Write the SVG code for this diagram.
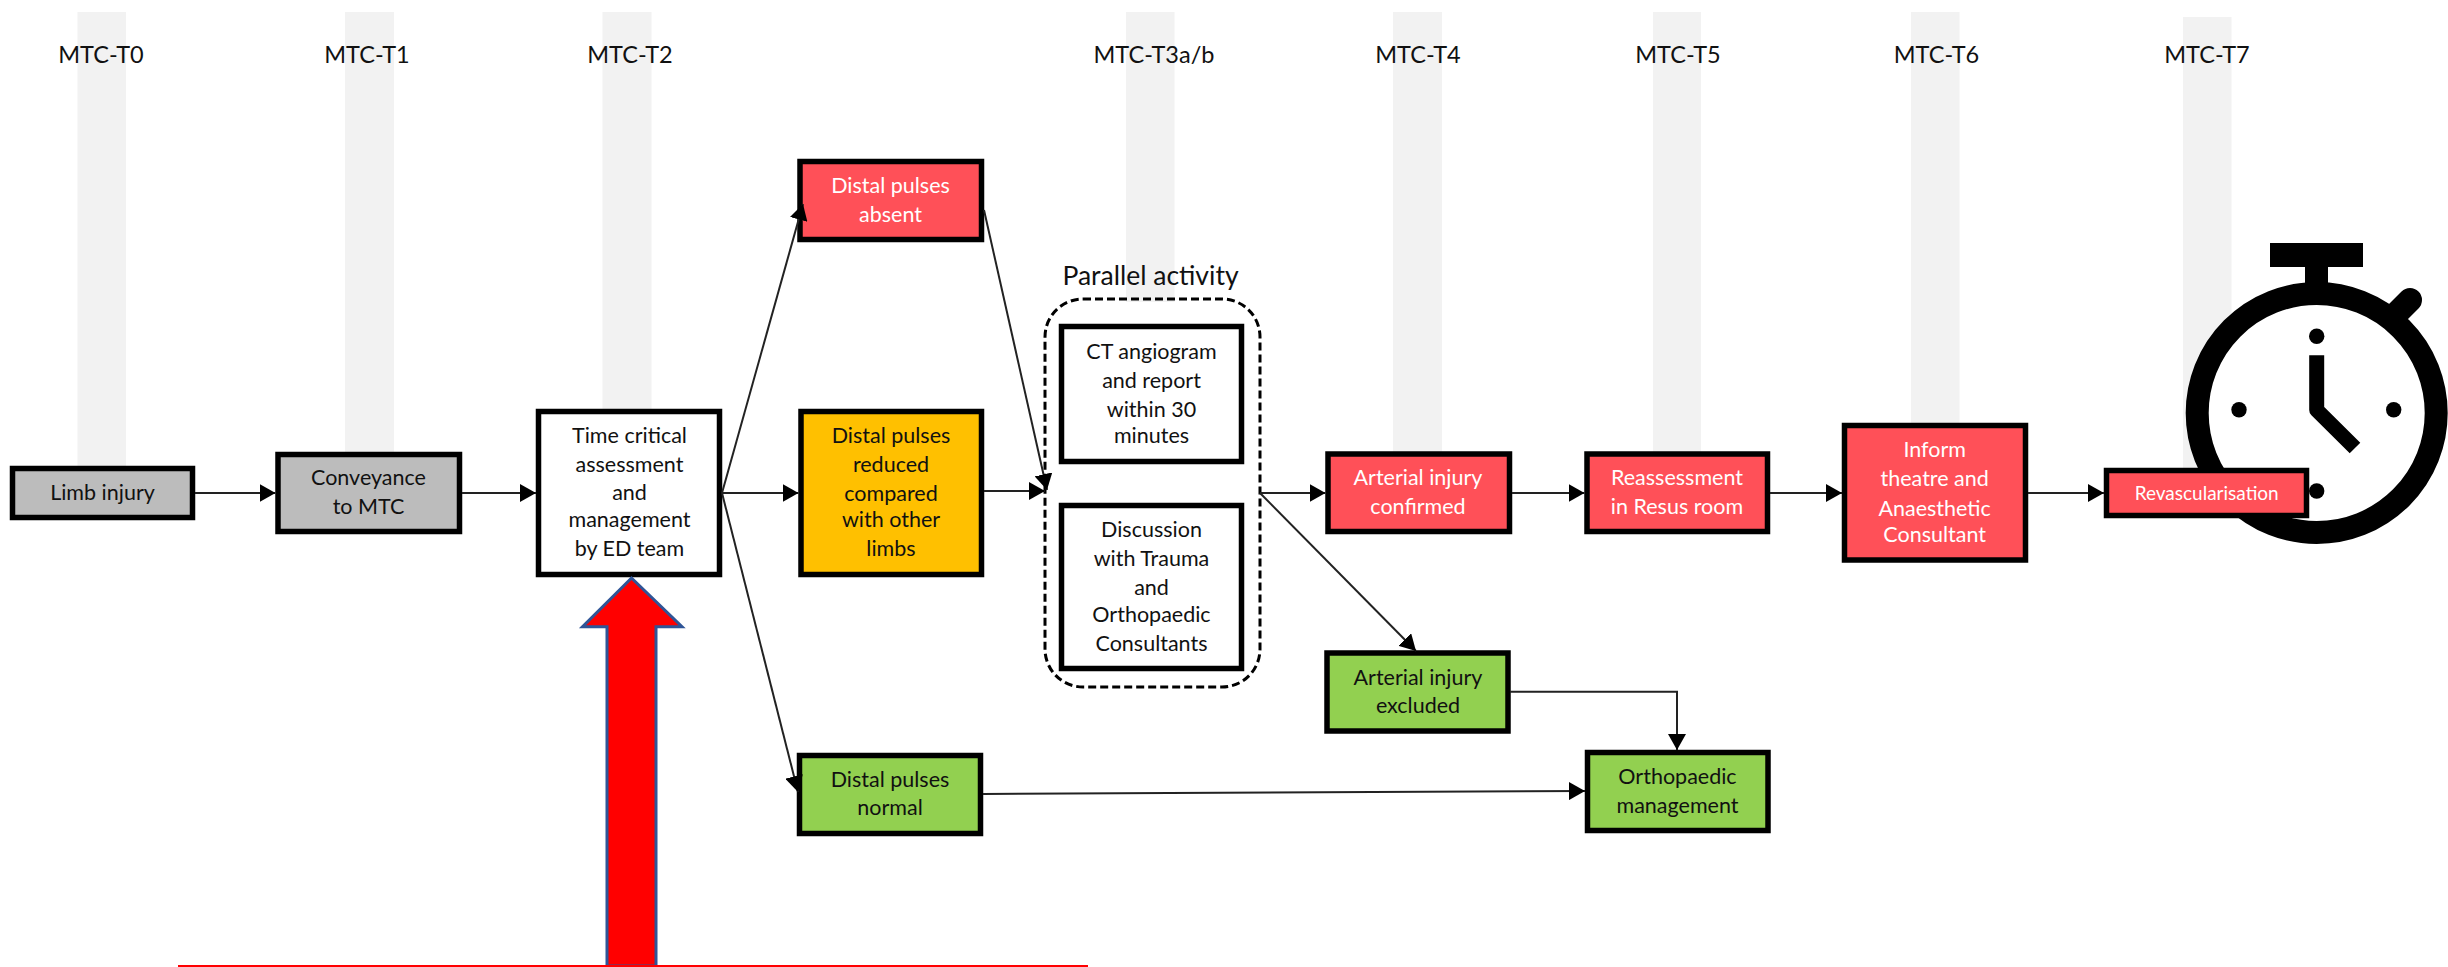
<svg xmlns="http://www.w3.org/2000/svg" width="2448" height="967" viewBox="0 0 2448 967">
<style>
text{font-family:Lato,"Liberation Sans",sans-serif;font-size:21.5px;text-anchor:middle;fill:#111}
.w{fill:#fff}
.h{font-size:23.5px}
.p{font-size:26.5px}
.r{font-size:19px}
.bar{fill:#f2f2f2}
.n{stroke:#000;stroke-width:5.5}
.grey{fill:#bcbcbc}.white{fill:#fff}.red{fill:#ff5058}.amber{fill:#ffc000}.green{fill:#92d050}
.c{fill:none;stroke:#222;stroke-width:2;marker-end:url(#a)}
</style>
<defs>
<marker id="a" markerUnits="userSpaceOnUse" markerWidth="16" markerHeight="18" viewBox="0 0 16 18" refX="16" refY="9" orient="auto"><path d="M0 0L16 9L0 18Z" fill="#000"/></marker>
</defs>
<rect width="2448" height="967" fill="#fff"/>
<g id="timeline">
<rect class="bar" x="77.500" y="12" width="48.500" height="460"/>
<rect class="bar" x="345" y="12" width="49" height="445"/>
<rect class="bar" x="602.500" y="12" width="49" height="400"/>
<rect class="bar" x="1126" y="12" width="48.500" height="290"/>
<rect class="bar" x="1393" y="12" width="49" height="445"/>
<rect class="bar" x="1653" y="12" width="48" height="445"/>
<rect class="bar" x="1911" y="12" width="48.500" height="415"/>
<rect class="bar" x="2183" y="17" width="48.500" height="455"/>
<text class="h" x="101" y="63">MTC-T0</text>
<text class="h" x="367" y="63">MTC-T1</text>
<text class="h" x="630" y="63">MTC-T2</text>
<text class="h" x="1154" y="63">MTC-T3a/b</text>
<text class="h" x="1418" y="63">MTC-T4</text>
<text class="h" x="1678" y="63">MTC-T5</text>
<text class="h" x="1936.500" y="63">MTC-T6</text>
<text class="h" x="2207" y="63">MTC-T7</text>
</g>
<g id="stopwatch">
<rect x="2270" y="243" width="93" height="24"/>
<rect x="2305" y="260" width="23" height="30"/>
<path d="M2410 300L2385 325" stroke="#000" stroke-width="24" stroke-linecap="round" fill="none"/>
<circle cx="2316.700" cy="413" r="119.500" fill="#fff" stroke="#000" stroke-width="23"/>
<circle cx="2316.700" cy="336.300" r="7.700"/>
<circle cx="2239" cy="409.700" r="7.700"/>
<circle cx="2393.700" cy="409.700" r="7.700"/>
<circle cx="2316.700" cy="491" r="7.700"/>
<path d="M2316.700 355.300V410L2355 448" stroke="#000" stroke-width="15" stroke-linejoin="round" fill="none"/>
</g>
<g id="parallel-activity">
<rect x="1045" y="299" width="215" height="388" rx="38" ry="38" fill="none" stroke="#000" stroke-width="3" stroke-dasharray="8 4"/>
<text class="p" x="1150.500" y="285">Parallel activity</text>
</g>
<g id="limb-injury"><rect class="n grey" x="12.500" y="468.500" width="180" height="49"/><text x="102.500" y="500">Limb injury</text></g>
<g id="conveyance"><rect class="n grey" x="278" y="454.500" width="181.500" height="77"/><text x="368.500" y="485">Conveyance</text><text x="368.500" y="514">to MTC</text></g>
<g id="assessment"><rect class="n white" x="538.500" y="411.500" width="181" height="163"/><text x="629.500" y="443">Time critical</text><text x="629.500" y="472">assessment</text><text x="629.500" y="500">and</text><text x="629.500" y="527">management</text><text x="629.500" y="556">by ED team</text></g>
<g id="pulses-absent"><rect class="n red" x="800" y="161.500" width="181.500" height="78"/><text class="w" x="890.500" y="193">Distal pulses</text><text class="w" x="890.500" y="222">absent</text></g>
<g id="pulses-reduced"><rect class="n amber" x="801" y="411.500" width="180.500" height="163"/><text x="891" y="443">Distal pulses</text><text x="891" y="472">reduced</text><text x="891" y="500.500">compared</text><text x="891" y="527">with other</text><text x="891" y="556">limbs</text></g>
<g id="pulses-normal"><rect class="n green" x="799.500" y="755.500" width="181" height="78"/><text x="890" y="786.500">Distal pulses</text><text x="890" y="815">normal</text></g>
<g id="ct-angiogram"><rect class="n white" x="1061.500" y="326.500" width="180" height="135"/><text x="1151.500" y="358.500">CT angiogram</text><text x="1151.500" y="387.500">and report</text><text x="1151.500" y="417">within 30</text><text x="1151.500" y="443">minutes</text></g>
<g id="discussion"><rect class="n white" x="1061.500" y="505.500" width="180" height="163"/><text x="1151.500" y="537">Discussion</text><text x="1151.500" y="566">with Trauma</text><text x="1151.500" y="595">and</text><text x="1151.500" y="622">Orthopaedic</text><text x="1151.500" y="651">Consultants</text></g>
<g id="injury-confirmed"><rect class="n red" x="1328" y="454" width="181.500" height="77.500"/><text class="w" x="1418" y="485">Arterial injury</text><text class="w" x="1418" y="514">confirmed</text></g>
<g id="injury-excluded"><rect class="n green" x="1327" y="653" width="181" height="78"/><text x="1418" y="684.500">Arterial injury</text><text x="1418" y="713">excluded</text></g>
<g id="orthopaedic"><rect class="n green" x="1587.500" y="752.500" width="180.500" height="78"/><text x="1677.500" y="783.500">Orthopaedic</text><text x="1677.500" y="812.500">management</text></g>
<g id="reassessment"><rect class="n red" x="1587" y="454" width="180.500" height="77.500"/><text class="w" x="1677" y="485">Reassessment</text><text class="w" x="1677" y="514">in Resus room</text></g>
<g id="inform-theatre"><rect class="n red" x="1844.500" y="425.500" width="181" height="134.500"/><text class="w" x="1934.700" y="457">Inform</text><text class="w" x="1934.700" y="486">theatre and</text><text class="w" x="1934.700" y="515.500">Anaesthetic</text><text class="w" x="1934.700" y="541.500">Consultant</text></g>
<g id="revascularisation"><rect class="n red" x="2106.500" y="470.500" width="200" height="45"/><text class="w r" x="2206.700" y="500">Revascularisation</text></g>
<g id="red-arrow">
<path d="M631.500 578L682 626.700H656V966H607V626.700H582.500Z" fill="#f00" stroke="#2f5597" stroke-width="3" stroke-linejoin="miter"/>
<path d="M178 966H1088" stroke="#f00" stroke-width="2" fill="none"/>
</g>
<g id="connectors">
<path class="c" d="M195 493H275.500"/>
<path class="c" d="M462 493H536"/>
<path class="c" d="M722 493H798.500"/>
<path class="c" d="M722 493L803 204"/>
<path class="c" d="M722 493L798 792"/>
<path class="c" d="M984 491H1045"/>
<path class="c" d="M984 210L1047 490"/>
<path class="c" d="M1260 493H1325.500"/>
<path class="c" d="M1260 493L1416 651"/>
<path class="c" d="M1510 691.700H1677V750"/>
<path class="c" d="M983 794L1585 791"/>
<path class="c" d="M1512 493H1584.500"/>
<path class="c" d="M1770 493H1842"/>
<path class="c" d="M2028 493H2104"/>
</g>
</svg>
